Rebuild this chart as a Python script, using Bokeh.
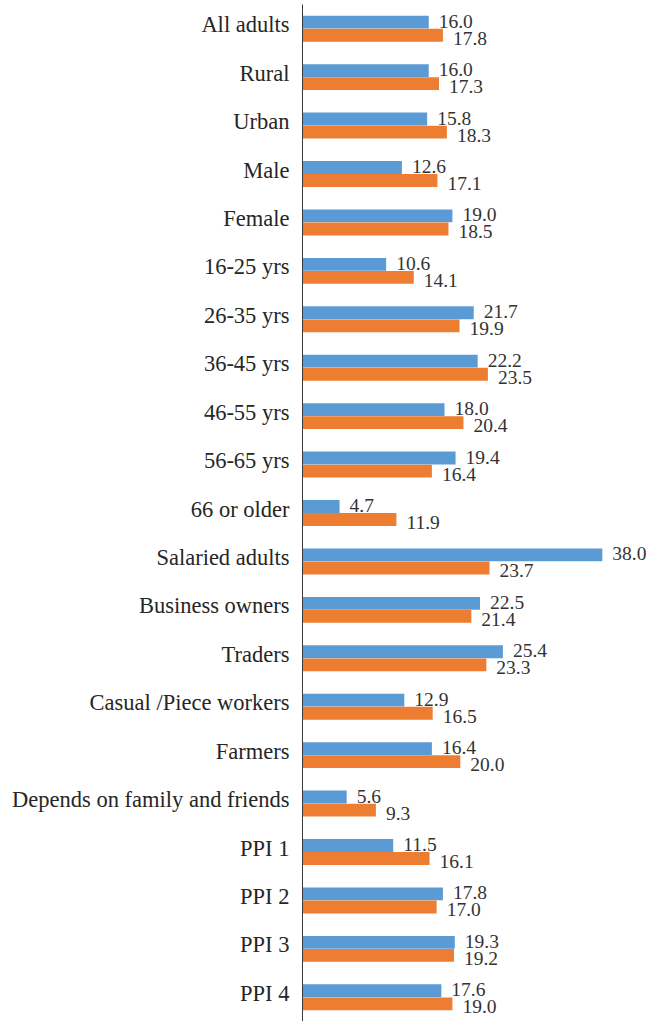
from bokeh.plotting import figure
from bokeh.models import ColumnDataSource, Range1d, FixedTicker
from bokeh.core.properties import value
from bokeh.embed import file_html
from bokeh.resources import INLINE

categories = ["All adults", "Rural", "Urban", "Male", "Female", "16-25 yrs", "26-35 yrs",
              "36-45 yrs", "46-55 yrs", "56-65 yrs", "66 or older", "Salaried adults",
              "Business owners", "Traders", "Casual /Piece workers", "Farmers",
              "Depends on family and friends", "PPI 1", "PPI 2", "PPI 3", "PPI 4"]
series_blue = [16.0, 16.0, 15.8, 12.6, 19.0, 10.6, 21.7, 22.2, 18.0, 19.4, 4.7, 38.0,
               22.5, 25.4, 12.9, 16.4, 5.6, 11.5, 17.8, 19.3, 17.6]
series_orange = [17.8, 17.3, 18.3, 17.1, 18.5, 14.1, 19.9, 23.5, 20.4, 16.4, 11.9, 23.7,
                 21.4, 23.3, 16.5, 20.0, 9.3, 16.1, 17.0, 19.2, 19.0]

n = len(categories)
pos = [n - 1 - i for i in range(n)]
off = 0.135
bh = 0.265

blue_src = ColumnDataSource(dict(y=[p_ + off for p_ in pos], v=series_blue,
                                 t=[f"{v:.1f}" for v in series_blue]))
orange_src = ColumnDataSource(dict(y=[p_ - off for p_ in pos], v=series_orange,
                                   t=[f"{v:.1f}" for v in series_orange]))

p = figure(width=646, height=1021, output_backend="svg", toolbar_location=None,
           x_range=Range1d(0, 43.6), y_range=Range1d(-0.5, n - 0.5),
           min_border_left=302, min_border_right=0, min_border_top=4, min_border_bottom=0)
p.outline_line_color = None
p.xgrid.visible = False
p.ygrid.visible = False
p.xaxis.visible = False

p.hbar(y="y", right="v", left=0, height=bh, source=blue_src, fill_color="#5B9BD5", line_color=None)
p.hbar(y="y", right="v", left=0, height=bh, source=orange_src, fill_color="#ED7D31", line_color=None)

p.text(x="v", y="y", text="t", source=blue_src, x_offset=10, y_offset=-1,
       text_font=value("Liberation Serif"), text_font_size="19.5px", text_color="#333333",
       text_baseline="middle", text_align="left")
p.text(x="v", y="y", text="t", source=orange_src, x_offset=10, y_offset=3,
       text_font=value("Liberation Serif"), text_font_size="19.5px", text_color="#333333",
       text_baseline="middle", text_align="left")

ax = p.yaxis[0]
ax.ticker = FixedTicker(ticks=[p_ + 0.08 for p_ in pos])
ax.major_label_overrides = {p_ + 0.08: c for p_, c in zip(pos, categories)}
ax.major_tick_line_color = None
ax.minor_tick_line_color = None
ax.axis_line_color = "#3a3a3a"
ax.axis_line_width = 1
ax.major_label_standoff = 7
ax.major_label_text_font = "Liberation Serif"
ax.major_label_text_font_size = "22.5px"
ax.major_label_text_color = "#262626"

open("out.html", "w").write(file_html(p, INLINE))
